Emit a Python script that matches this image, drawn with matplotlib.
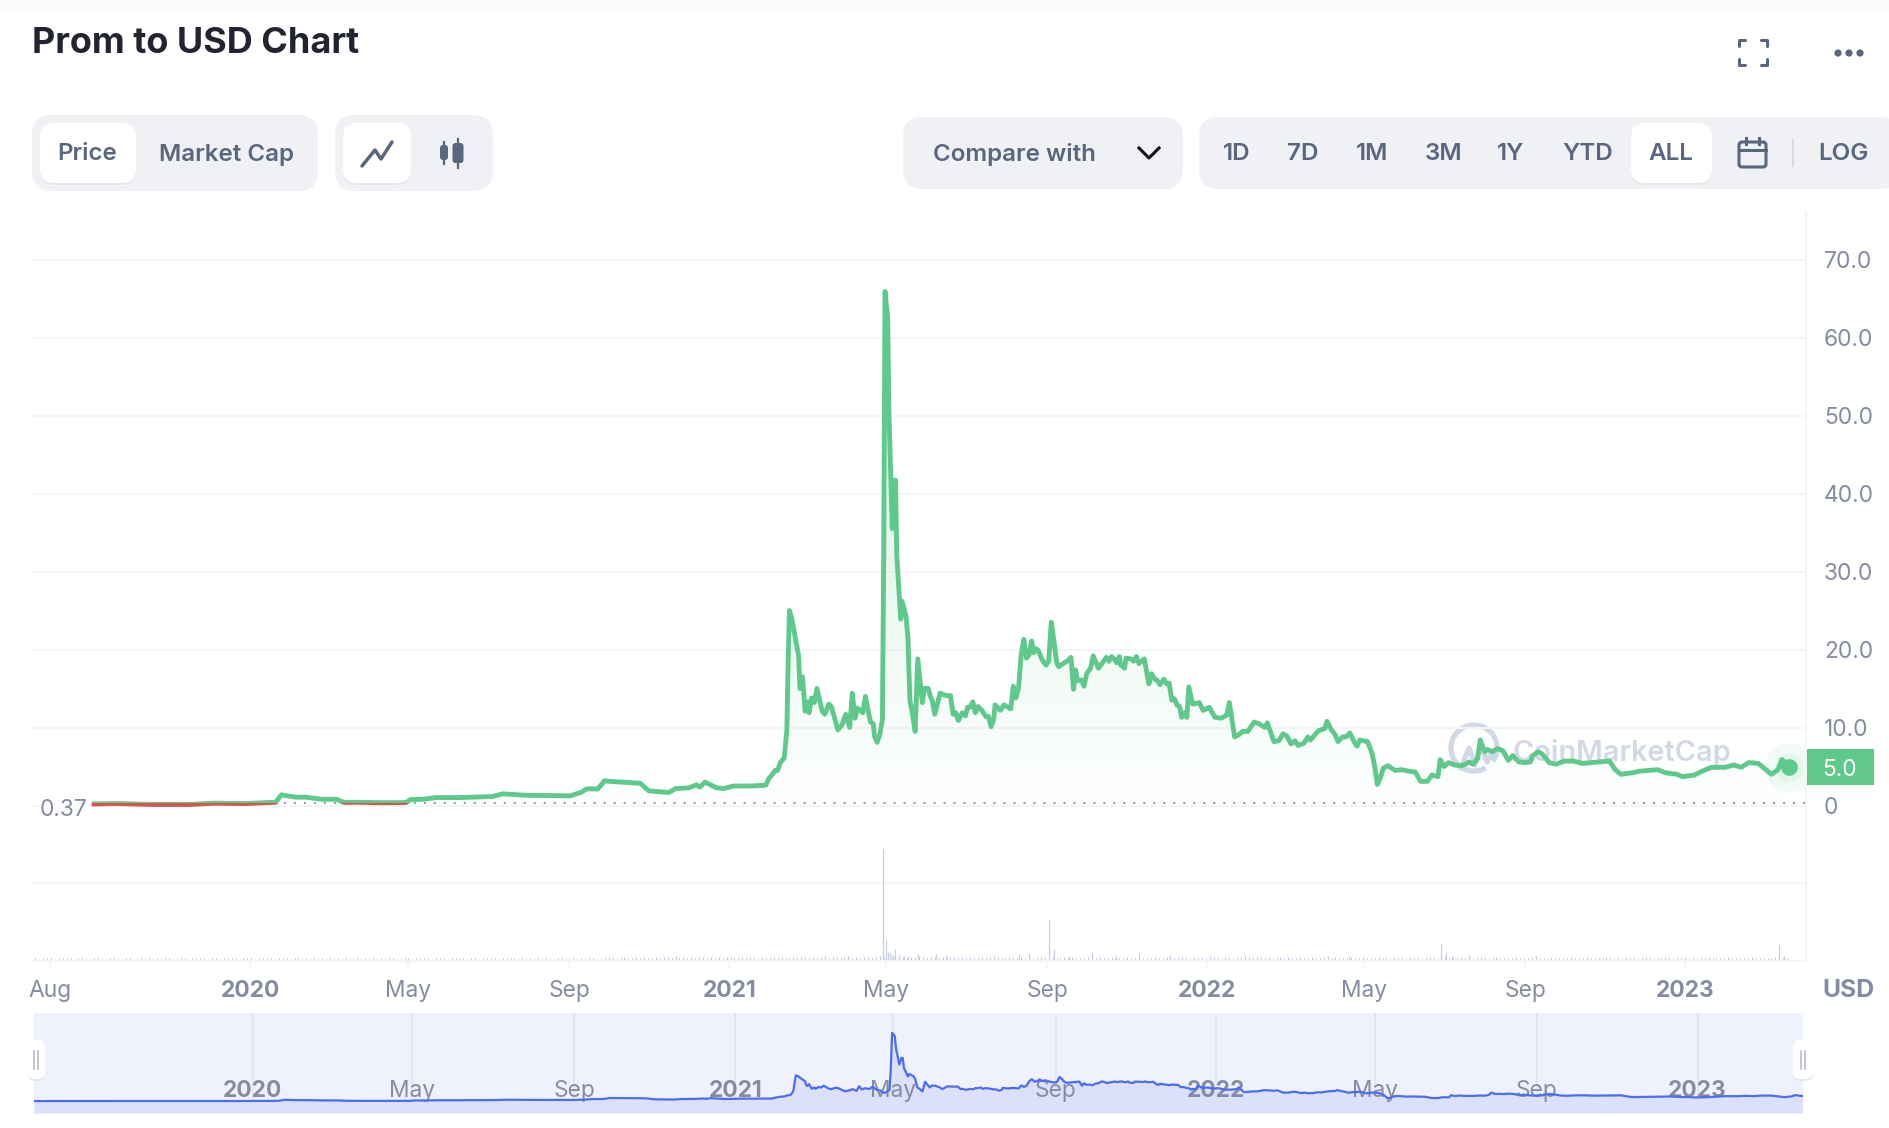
#!/usr/bin/python
# coding: utf-8
"""Prom to USD chart, drawn with matplotlib."""

import numpy as np
import matplotlib
matplotlib.use('agg')
import matplotlib.pyplot as plt
from matplotlib.patches import FancyBboxPatch, Rectangle, Arc, Circle

plt.rcParams['font.family'] = ['Inter', 'DejaVu Sans']

W, H = 1890, 1128

# days counted from 2020-01-01
price_days = [-119, -101, -74, -47, -27, -4, 19.5, 24, 35, 43, 54.6, 66, 72, 82, 101, 119, 122.7, 132.5, 142, 160,
              185, 193, 210, 244.6, 253, 257, 265.7, 270.7, 280.5, 298, 304.6, 320, 325, 335, 341, 343.6, 347.5,
              356.4, 362, 369, 382, 394, 396, 399, 401, 403, 405, 408, 410, 411, 412, 414, 419, 420, 421, 422, 424,
              426, 427, 429, 431, 433, 437, 439, 442, 444, 449, 452, 455, 458, 460, 462, 464, 468, 470, 473, 474,
              476, 477, 479, 481, 483, 484, 485, 486, 487, 488, 490.5, 492, 493, 494, 497, 498, 501, 502.5, 504,
              505.6, 508, 510, 513.5, 515, 518, 520, 521, 523, 527, 530, 532, 535, 537, 539, 541, 544, 546.5, 548,
              550, 552, 554, 556, 559, 562, 564, 566, 568, 569, 573, 576, 581, 583, 585, 587, 589, 591, 593, 595,
              597, 598.5, 600.5, 602, 605, 608, 610, 612, 614, 616, 617.5, 622, 624, 627, 629, 630.5, 632, 635, 637,
              639, 642, 644, 648, 651, 654, 656, 658, 660, 662, 664, 665, 668, 669, 673, 675, 677, 679, 683, 686.5,
              688.6, 691, 692.6, 695, 698, 700, 702, 704, 706, 708, 710, 711.5, 713.5, 715.5, 717, 720, 725, 728,
              732.6, 737, 742, 746, 748, 752, 755.4, 758, 762, 767, 770.6, 775, 777, 782, 785.7, 789, 792, 795, 798,
              800.5, 805, 808, 810, 816, 821, 822.6, 826, 828.7, 831, 834.4, 837, 840, 843.5, 845.5, 847.5, 853.5,
              857, 859, 861, 863.6, 865.6, 869, 874.7, 879.8, 885, 890, 894, 899.3, 902.6, 907.3, 909, 912, 915.4,
              920, 925, 928.5, 931, 934, 937.6, 939.6, 943, 945, 948.6, 953, 957, 961, 964.4, 969, 974, 978, 979.6,
              984, 987, 992.3, 997.4, 1004, 1011, 1017.5, 1024, 1038.4, 1042.7, 1047, 1051, 1056, 1061, 1068, 1075,
              1081, 1090, 1094, 1103, 1111.6, 1116.6, 1126.7, 1133, 1139, 1144.5, 1152, 1157, 1162, 1167, 1170, 1175.5]
price_vals = [0.2, 0.25, 0.13, 0.13, 0.3, 0.25, 0.42, 1.37, 1.07, 1.07, 0.8, 0.8, 0.4, 0.42, 0.36, 0.38, 0.77, 0.8,
              1.02, 1.02, 1.15, 1.5, 1.32, 1.24, 1.7, 2.13, 2.13, 3.16, 3.03, 2.86, 1.88, 1.67, 2.18, 2.26, 2.65, 2.35,
              3.0, 2.26, 2.18, 2.5, 2.5, 2.6, 3.4, 4.0, 4.5, 4.5, 5.5, 6.1, 9.6, 18.3, 25.0, 23.8, 19.2, 15.0, 15.0,
              16.5, 12.1, 13.3, 11.9, 13.8, 13.2, 15.0, 12.1, 11.7, 13.0, 12.7, 9.7, 10.3, 11.7, 10.0, 14.4, 11.2,
              12.5, 11.9, 14.0, 11.4, 10.7, 10.5, 8.9, 8.1, 9.1, 11.0, 32.0, 65.9, 64.2, 62.8, 50.4, 35.5, 41.7, 41.7,
              32.0, 23.9, 26.2, 24.3, 21.5, 13.5, 12.1, 9.5, 18.8, 13.2, 15.0, 15.0, 13.8, 13.5, 11.7, 14.4, 14.2,
              14.1, 14.1, 11.7, 11.9, 10.9, 11.9, 11.5, 12.6, 12.6, 13.3, 11.9, 12.7, 12.2, 11.4, 11.4, 10.1, 11.0,
              12.9, 12.2, 12.9, 12.4, 15.3, 13.8, 15.1, 19.4, 21.3, 18.9, 19.3, 21.1, 19.6, 20.1, 19.9, 18.7, 18.0,
              18.5, 23.5, 21.1, 18.4, 17.8, 18.3, 18.5, 19.0, 14.9, 17.4, 16.0, 16.1, 15.3, 16.9, 17.6, 19.2, 17.6,
              18.3, 19.0, 18.5, 19.1, 18.8, 18.3, 19.1, 18.0, 17.6, 18.9, 18.8, 18.5, 19.1, 18.2, 18.8, 15.6, 16.9,
              16.2, 16.1, 15.5, 16.2, 15.6, 15.7, 13.5, 13.7, 12.9, 12.7, 11.3, 11.9, 11.3, 15.2, 13.0, 13.2, 12.2,
              12.6, 11.3, 11.2, 11.6, 13.2, 8.8, 9.1, 9.5, 9.5, 10.7, 10.5, 10.0, 10.6, 8.2, 8.3, 9.2, 8.9, 7.9, 8.3,
              7.7, 8.0, 8.8, 8.4, 9.6, 9.9, 10.8, 9.7, 9.1, 8.2, 8.8, 8.8, 9.3, 8.1, 7.6, 8.4, 8.2, 6.7, 5.0, 2.7,
              3.7, 4.8, 5.1, 4.5, 4.6, 4.4, 4.3, 3.1, 3.1, 3.9, 3.7, 5.9, 5.0, 5.5, 5.2, 5.1, 5.3, 5.6, 5.3, 6.0, 8.4,
              6.9, 7.2, 6.9, 7.3, 7.0, 5.8, 6.4, 5.6, 5.5, 5.6, 6.4, 6.9, 6.6, 5.5, 5.3, 5.7, 5.7, 5.4, 5.5, 5.7, 4.6,
              4.0, 4.1, 4.2, 4.4, 4.5, 4.6, 4.2, 4.0, 3.7, 3.9, 4.6, 4.9, 4.9, 5.2, 4.9, 5.5, 5.4, 4.7, 4.0, 4.6, 5.9,
              5.0]
open_price = 0.37
last_price = 5.0

# bigger volume spikes, in units of the one unlabelled gridline
spike_days = [483.5, 485.6, 487.2, 488.8, 491, 493, 495.7, 499.4, 502.6, 510, 523.8, 531.2, 568.4, 587.5, 595, 610.3,
              614, 625.7, 642.7, 661.3, 678.8, 702.7, 733, 823, 839, 909.6, 913.4, 917.7, 931, 982.3, 1168, 1171.3]
spike_vals = [1.44, 0.27, 0.12, 0.10, 0.08, 0.16, 0.08, 0.06, 0.06, 0.09, 0.09, 0.08, 0.07, 0.09, 0.10, 0.54, 0.15,
              0.07, 0.12, 0.08, 0.10, 0.08, 0.07, 0.06, 0.07, 0.23, 0.12, 0.07, 0.08, 0.07, 0.20, 0.06]

# quiet volume, one reading every third day from day -167, in hundredths of a unit
quiet_vol = [4, 4, 3, 4, 4, 4, 3, 4, 4, 4, 4, 3, 4, 4, 4, 3,
             4, 4, 4, 3, 4, 4, 4, 3, 4, 4, 3, 4, 4, 4, 4, 3, 4, 4, 4, 4, 3, 4, 4, 4, 3, 4, 4, 4, 4, 3, 4, 4, 3, 4, 4, 4,
             4, 3, 4, 4, 4, 3, 4, 4, 4, 4, 3, 4, 4, 4, 3, 4, 4, 4, 4, 3, 4, 4, 4, 3, 4, 4, 4, 3, 4, 4, 4, 4, 3, 4, 4, 4,
             3, 4, 4, 4, 4, 3, 4, 4, 4, 3, 4, 4, 4, 4, 3, 4, 4, 4, 3, 4, 4, 4, 4, 3, 4, 4, 3, 4, 4, 4, 4, 3, 4, 4, 4, 4,
             3, 4, 4, 4, 3, 4, 4, 4, 4, 3, 4, 4, 4, 4, 4, 3, 4, 4, 4, 4, 3, 4, 4, 5, 4, 4, 4, 5, 4, 4, 5, 4, 5, 4, 4, 5,
             4, 5, 5, 4, 6, 5, 5, 4, 5, 4, 5, 5, 4, 5, 4, 5, 4, 5, 5, 4, 4, 5, 4, 5, 4, 4, 5, 4, 4, 5, 4, 5, 4, 4, 5, 4,
             5, 5, 4, 5, 4, 5, 6, 4, 5, 5, 4, 5, 6, 4, 5, 4, 5, 5, 4, 5, 6, 5, 4, 5, 5, 6, 5, 4, 5, 5, 6, 5, 4, 5, 5, 4,
             5, 4, 5, 5, 4, 5, 4, 5, 4, 4, 5, 4, 5, 4, 5, 4, 4, 5, 4, 4, 5, 4, 5, 4, 4, 5, 4, 4, 5, 4, 4, 5, 4, 5, 4, 4,
             4, 5, 4, 4, 5, 4, 4, 5, 4, 4, 4, 5, 4, 4, 5, 4, 4, 4, 5, 4, 4, 5, 4, 4, 4, 5, 4, 4, 5, 4, 4, 4, 4, 5, 4, 4,
             5, 4, 4, 4, 5, 6, 5, 4, 5, 5, 4, 5, 4, 4, 5, 4, 5, 4, 4, 5, 4, 4, 5, 4, 4, 5, 4, 4, 5, 4, 4, 4, 5, 4, 4, 5,
             4, 4, 4, 5, 4, 4, 4, 5, 4, 4, 4, 5, 4, 4, 4, 4, 5, 4, 4, 4, 5, 4, 4, 4, 5, 4, 4, 4, 4, 5, 4, 4, 4, 5, 4, 4,
             4, 4, 5, 4, 4, 4, 5, 4, 4, 4, 4, 5, 4, 4, 4, 4, 5, 4, 4, 4, 5, 4, 4, 4, 4, 5, 4, 4, 4, 4, 5, 4, 4, 4, 4, 5,
             4, 4, 4, 4, 5, 4, 4, 4, 4, 5, 4, 4, 4, 4, 4, 5, 4, 4, 4, 4, 5, 4, 4, 4, 4, 4, 5, 4, 4, 4, 4, 4, 5, 4, 4, 4]

tick_days = [-153, 0, 121, 244, 366, 486, 609, 731, 851, 974, 1096]
tick_labels = ['Aug', '2020', 'May', 'Sep', '2021', 'May', 'Sep', '2022', 'May', 'Sep', '2023']
nav_tick_days = tick_days[1:]
nav_tick_labels = tick_labels[1:]
price_ticks = [0, 10, 20, 30, 40, 50, 60, 70]
price_tick_labels = ['0', '10.0', '20.0', '30.0', '40.0', '50.0', '60.0', '70.0']
range_buttons = ['1D', '7D', '1M', '3M', '1Y', 'YTD', 'ALL']
range_centers = [1237, 1303, 1372, 1443.5, 1511, 1587.5, 1671]

GREEN = '#5fc98b'
RED = '#d9534f'
GREY = '#858ca2'
BTN_TEXT = '#58667e'
PILL = '#eff1f5'
GRID = '#f4f5f7'
BLUE = '#4a6cf7'


def px_axes(fig, x0, y0, x1, y1, **kw):
    """Axes placed by pixel box, y counted from the top of the figure."""
    return fig.add_axes([x0 / W, 1 - y1 / H, (x1 - x0) / W, (y1 - y0) / H], **kw)


def pill(ax, x0, y0, x1, y1, r, color, z=1):
    ax.add_patch(FancyBboxPatch((x0, y0), x1 - x0, y1 - y0, boxstyle='round,pad=0,rounding_size=%s' % r,
                                fc=color, ec='none', zorder=z))


def draw_ui(ax):
    ax.add_patch(Rectangle((0, 0), W, 13, fc='#fbfbfc', ec='none'))
    ax.text(32, 53, 'Prom to USD Chart', fontsize=25.9, fontweight='bold', color='#222531', va='baseline')

    pill(ax, 32, 115, 318, 191, 20, PILL)
    pill(ax, 335, 115, 493, 191, 20, PILL)
    pill(ax, 903, 117, 1183, 189, 20, PILL)
    pill(ax, 1199, 117, 1900, 189, 20, PILL)
    for x0, x1 in [(40, 136), (343, 411), (1631, 1712)]:
        pill(ax, x0, 125, x1, 185, 14, '#e6e8ee', z=2)
        pill(ax, x0, 123, x1, 183, 14, 'white', z=3)

    btn = dict(fontsize=17.4, fontweight='semibold', color=BTN_TEXT, ha='center', va='center_baseline', zorder=4)
    ax.text(87.4, 152, 'Price', **btn)
    ax.text(226.6, 152, 'Market Cap', **btn)
    ax.text(1014, 152, 'Compare with', **btn)
    for x, label in zip(range_centers, range_buttons):
        ax.text(x, 152, label, **btn)
    ax.text(1843, 152, 'LOG', **btn)

    # line icon
    ax.plot([362, 375, 381, 392], [166, 150, 159, 142], color=BTN_TEXT, lw=2.5, zorder=4, solid_capstyle='round')
    # candle icon
    for x, half, w0, w1, b0, b1 in [(444, 4, 142, 164, 145, 160), (458, 5.5, 139, 168, 143, 163)]:
        ax.plot([x, x], [w0, w1], color=BTN_TEXT, lw=1.6, zorder=4)
        pill(ax, x - half, b0, x + half, b1, 3, BTN_TEXT, z=4)
    # dropdown chevron
    ax.plot([1139, 1149, 1159], [148, 158, 148], color='#111111', lw=2.2, zorder=4)
    # calendar
    ax.add_patch(FancyBboxPatch((1739, 142), 27, 25, boxstyle='round,pad=0,rounding_size=3', fc='none',
                                ec=BTN_TEXT, lw=2.2, zorder=4))
    ax.plot([1739, 1766], [150, 150], color=BTN_TEXT, lw=2.2, zorder=4)
    ax.plot([1746, 1746], [138, 144], color=BTN_TEXT, lw=2.2, zorder=4)
    ax.plot([1759, 1759], [138, 144], color=BTN_TEXT, lw=2.2, zorder=4)
    ax.plot([1793, 1793], [140, 166], color='#d5d9e4', lw=1.4, zorder=4)

    # fullscreen corners
    for xs, ys in [([1739, 1739, 1745], [46, 40, 40]), ([1761, 1767, 1767], [40, 40, 46]),
                   ([1739, 1739, 1745], [59, 65, 65]), ([1761, 1767, 1767], [65, 65, 59])]:
        ax.plot(xs, ys, color=BTN_TEXT, lw=2.2, solid_capstyle='round')
    for x in [1838, 1849, 1860]:
        ax.add_patch(Circle((x, 53), 3.6, fc=BTN_TEXT, ec='none'))

    # watermark sits under the price line
    wm = '#d3d8e8'
    ax.add_patch(Arc((1474, 748), 46, 46, theta1=60, theta2=395, ec=wm, lw=3.8))
    ax.plot([1461, 1469, 1475, 1481, 1487, 1492], [768, 748, 765, 745, 762, 753], color=wm, lw=3.6)
    ax.text(1512, 750, 'CoinMarketCap', fontsize=20.8, fontweight='semibold', color=wm, va='center_baseline')

    ax.text(1848, 988, 'USD', fontsize=17.8, fontweight='bold', color=GREY, ha='center', va='center_baseline')


fig = plt.figure(figsize=(W / 100, H / 100), dpi=100, facecolor='white')

ui = px_axes(fig, 0, 0, W, H, zorder=0)
ui.set_xlim(0, W)
ui.set_ylim(H, 0)
ui.axis('off')
draw_ui(ui)

# x scale shared by price and volume panes
xlim = (-166.5, 1188.4)
days = np.array(price_days)
vals = np.array(price_vals)

ax = px_axes(fig, 32, 212, 1806, 812, zorder=2)
ax.patch.set_alpha(0)
ylim = (-0.83, 76.1)
ax.set_yticks(price_ticks)
ax.set_yticklabels(price_tick_labels, fontsize=16.4, color=GREY)
ax.yaxis.tick_right()
ax.tick_params(axis='y', length=0, pad=13)
ax.set_xticks([])
ax.grid(axis='y', color=GRID, lw=1.4)
ax.set_axisbelow(True)
for name, spine in ax.spines.items():
    spine.set_visible(name == 'right')
    spine.set_color(GRID)
    spine.set_linewidth(1.4)

# soft green wash under the line
mask = ax.fill_between(days, vals, open_price, facecolor='none', edgecolor='none')
wash = np.zeros((256, 1, 4))
wash[..., :3] = matplotlib.colors.to_rgb(GREEN)
wash[:, 0, 3] = np.linspace(0.27, 0.01, 256)
im = ax.imshow(wash, extent=(days[0], days[-1], 0, 66), aspect='auto', zorder=1)
im.set_clip_path(mask.get_paths()[0], ax.transData)
ax.set_xlim(xlim)
ax.set_ylim(ylim)

ax.plot([days[0], xlim[1]], [open_price, open_price], color='#8d93a6', lw=1.4, ls=(0, (1, 4.14)), zorder=2)

above = Rectangle((xlim[0], open_price), xlim[1] - xlim[0], 90, transform=ax.transData)
below = Rectangle((xlim[0], ylim[0]), xlim[1] - xlim[0], open_price - ylim[0], transform=ax.transData)
line_up, = ax.plot(days, vals, color=GREEN, lw=3.5, zorder=3, solid_joinstyle='round')
line_up.set_clip_path(above)
line_dn, = ax.plot(days, vals, color=RED, lw=3.5, zorder=3, solid_joinstyle='round')
line_dn.set_clip_path(below)

# live price marker and badge
ax.plot(days[-1], last_price, 'o', ms=35, color=GREEN, alpha=0.07, mec='none', zorder=2)
ax.plot(days[-1], last_price, 'o', ms=21, color=GREEN, alpha=0.09, mec='none', zorder=2)
ax.plot(days[-1], last_price, 'o', ms=12, color=GREEN, mec='none', zorder=4)

ui.add_patch(Rectangle((1806, 749), 68, 36, fc=GREEN, ec='none', zorder=5))
ui.text(1840, 767, '5.0', fontsize=16.4, color='white', ha='center', va='center_baseline', zorder=6)

# volume pane
vol = px_axes(fig, 32, 812, 1806, 961, zorder=1)
vol.patch.set_alpha(0)
quiet_days = -167 + 3 * np.arange(len(quiet_vol))
vol.vlines(quiet_days, 0, np.array(quiet_vol) / 100, color='#c2c8d9', lw=0.8)
vol.vlines(spike_days, 0, spike_vals, color='#c9cfde', lw=0.9)
vol.set_xlim(xlim)
vol.set_ylim(0, 1.91)
vol.set_yticks([1])
vol.set_yticklabels([])
vol.tick_params(axis='y', length=0)
vol.grid(axis='y', color=GRID, lw=1.4)
vol.set_axisbelow(True)
vol.set_xticks(tick_days)
vol.set_xticklabels(tick_labels, fontsize=16.4, color=GREY)
vol.tick_params(axis='x', length=5, width=1.2, color=GRID, pad=9)
for label in vol.get_xticklabels():
    if label.get_text().isdigit():
        label.set_fontweight('bold')
for name, spine in vol.spines.items():
    spine.set_visible(name in ('right', 'bottom'))
    spine.set_color(GRID)
    spine.set_linewidth(1.4)

# navigator strip
nav = px_axes(fig, 34, 1013, 1803, 1113, zorder=3)
nav.set_facecolor('#eff2fd')
nav_days = [-166] + price_days
nav_vals = [price_vals[0]] + price_vals
nav.fill_between(nav_days, nav_vals, -11.3, color='#dce1fb', lw=0, zorder=1)
nav.plot(nav_days, nav_vals, color=BLUE, lw=1.6, zorder=2)
nav.set_xlim(-166, 1176)
nav.set_ylim(-11.3, 85)
nav.set_yticks([])
nav.set_xticks(nav_tick_days)
nav.set_xticklabels(nav_tick_labels, fontsize=16.4, color=GREY)
nav.tick_params(axis='x', length=0, direction='in', pad=-24, zorder=5)
for label in nav.get_xticklabels():
    label.set_zorder(5)
    if label.get_text().isdigit():
        label.set_fontweight('bold')
for t in nav_tick_days:
    nav.axvline(t, color='#e0e4f2', lw=1.2, zorder=0.5)
for spine in nav.spines.values():
    spine.set_visible(False)

# navigator grab handles and the open price label, above everything
top = px_axes(fig, 0, 0, W, H, zorder=4)
top.set_xlim(0, W)
top.set_ylim(H, 0)
top.axis('off')
top.patch.set_alpha(0)
top.text(40, 807, '0.37', fontsize=16.4, color=GREY, va='center_baseline',
         bbox=dict(fc='white', ec='none', pad=1.5))
for x0, x1 in [(28, 45), (1793, 1813)]:
    pill(top, x0, 1042, x1, 1081, 7, '#e4e7ef')
    pill(top, x0, 1040, x1, 1079, 7, 'white', z=2)
    mid = (x0 + x1) / 2 if x0 > 100 else 36
    top.plot([mid - 2, mid - 2], [1051, 1069], color='#b5bbcb', lw=1.2, zorder=3)
    top.plot([mid + 2, mid + 2], [1051, 1069], color='#b5bbcb', lw=1.2, zorder=3)

fig.savefig('out.png', dpi=100, facecolor='white')
